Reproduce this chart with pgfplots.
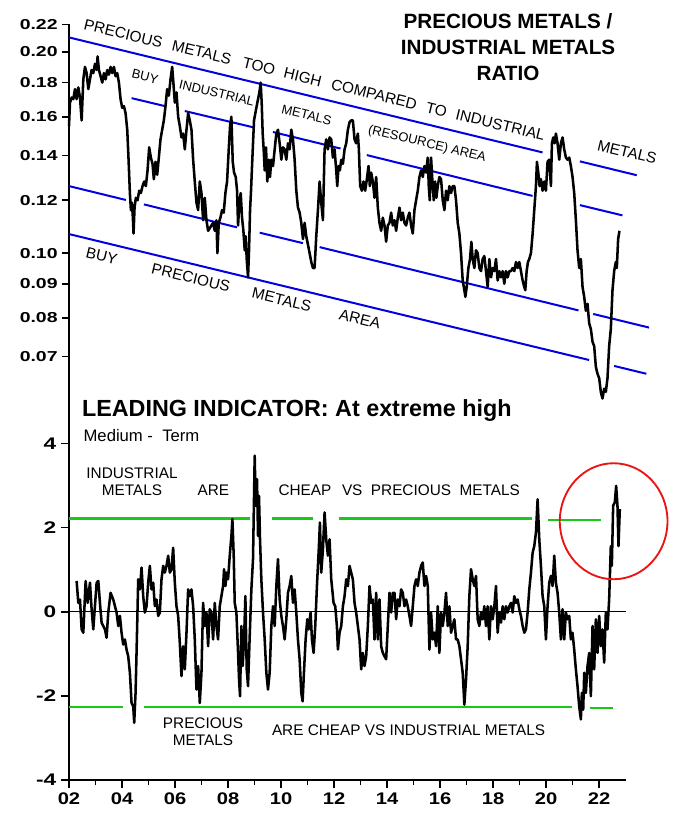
\documentclass[border=0pt]{standalone}
\usepackage{pgfplots}
\pgfplotsset{compat=1.18}
\usepackage{fontspec}
\setmainfont{Liberation Sans}
\newfontfamily\tickfont[FakeStretch=1.2]{Liberation Sans}
\newfontfamily\tickfontw[FakeStretch=1.35]{Liberation Sans}
\definecolor{lblue}{RGB}{0,0,225}
\definecolor{lgreen}{RGB}{25,200,25}
\definecolor{lred}{RGB}{235,20,20}
\begin{document}
\begin{tikzpicture}
\useasboundingbox (0,0) rectangle (510.75pt,610.5pt);
% ---------------- top panel ----------------
\begin{axis}[
  at={(51.75pt,309.45pt)}, anchor=south west, scale only axis,
  width=417.5pt, height=282.8pt,
  xmin=2, xmax=23, ymode=log, ymin=0.06, ymax=0.22,
  axis x line=none, axis y line=left,
  y axis line style={-, line width=1.5pt},
  ytick={0.07,0.08,0.09,0.1,0.12,0.14,0.16,0.18,0.2,0.22},
  yticklabels={0.07,0.08,0.09,0.10,0.12,0.14,0.16,0.18,0.20,0.22},
  yminorticks=false,
  tick align=outside, major tick length=5pt,
  tick style={line width=1.2pt, black},
  yticklabel style={font=\tickfontw\bfseries\fontsize{10.8}{12}\selectfont},
  clip=false,
]
% channel lines
\pgfplotsset{every axis plot/.append style={}}
\addplot[lblue, line width=1.5pt] coordinates {(2,0.2103) (19.864,0.1415)};
\addplot[lblue, line width=1.5pt] coordinates {(21.273,0.1372) (23.42,0.1308)};
\addplot[lblue, line width=1.5pt] coordinates {(4.362,0.1706) (5.616,0.1660)};
\addplot[lblue, line width=1.5pt] coordinates {(6.369,0.1632) (9.006,0.1541)};
\addplot[lblue, line width=1.5pt] coordinates {(9.695,0.1518) (12.245,0.1434)};
\addplot[lblue, line width=1.5pt] coordinates {(13.235,0.1402) (19.488,0.1218)};
\addplot[lblue, line width=1.5pt] coordinates {(21.273,0.1180) (22.878,0.1139)};
\addplot[lblue, line width=1.5pt] coordinates {(2,0.1260) (4.147,0.1201)};
\addplot[lblue, line width=1.5pt] coordinates {(4.825,0.1183) (8.339,0.1093)};
\addplot[lblue, line width=1.5pt] coordinates {(9.194,0.1073) (10.825,0.1035)};
\addplot[lblue, line width=1.5pt] coordinates {(11.454,0.1021) (21.22,0.0821)};
\addplot[lblue, line width=1.5pt] coordinates {(21.773,0.0811) (23.88,0.0774)};
\addplot[lblue, line width=1.5pt] coordinates {(2,0.1068) (21.62,0.0692)};
\addplot[lblue, line width=1.5pt] coordinates {(22.565,0.0678) (23.78,0.0660)};
% ratio series
\addplot[black, line width=1.9pt, line join=round] coordinates {
(2.00,0.155) (2.037,0.168) (2.10,0.171) (2.163,0.170) (2.226,0.176) (2.288,0.170)
(2.351,0.177) (2.414,0.171) (2.477,0.158) (2.54,0.182) (2.602,0.190) (2.665,0.186)
(2.728,0.176) (2.791,0.182) (2.853,0.188) (2.916,0.186) (2.979,0.192) (3.042,0.188)
(3.079,0.197) (3.129,0.188) (3.192,0.184) (3.255,0.180) (3.318,0.186) (3.381,0.182)
(3.443,0.188) (3.506,0.185) (3.569,0.190) (3.632,0.186) (3.695,0.190) (3.757,0.184)
(3.82,0.186) (3.883,0.180) (3.946,0.170) (4.008,0.165) (4.071,0.166) (4.134,0.162)
(4.197,0.153) (4.247,0.138) (4.297,0.123) (4.335,0.116) (4.373,0.119) (4.41,0.113)
(4.435,0.107) (4.473,0.117) (4.523,0.121) (4.586,0.120) (4.649,0.124) (4.711,0.123)
(4.774,0.126) (4.837,0.128) (4.9,0.126) (4.963,0.133) (5.025,0.144) (5.088,0.139)
(5.151,0.136) (5.201,0.129) (5.264,0.137) (5.327,0.131) (5.389,0.139) (5.452,0.148)
(5.515,0.153) (5.578,0.158) (5.641,0.166) (5.703,0.176) (5.766,0.172) (5.829,0.182)
(5.892,0.190) (5.942,0.179) (5.992,0.168) (6.055,0.174) (6.118,0.160) (6.18,0.155)
(6.243,0.149) (6.306,0.151) (6.369,0.143) (6.432,0.153) (6.494,0.162) (6.557,0.158)
(6.62,0.153) (6.683,0.138) (6.745,0.128) (6.808,0.119) (6.871,0.116) (6.934,0.128)
(6.997,0.123) (7.059,0.112) (7.122,0.121) (7.185,0.112) (7.248,0.108) (7.373,0.110)
(7.436,0.111) (7.499,0.108) (7.561,0.112) (7.599,0.100) (7.649,0.111) (7.712,0.113)
(7.775,0.116) (7.838,0.115) (7.9,0.123) (7.963,0.128) (8.026,0.143) (8.076,0.155)
(8.126,0.160) (8.177,0.137) (8.227,0.132) (8.29,0.130) (8.34,0.124) (8.378,0.110)
(8.428,0.119) (8.478,0.123) (8.528,0.113) (8.579,0.108) (8.629,0.101) (8.666,0.106)
(8.704,0.098) (8.754,0.092) (8.792,0.101) (8.83,0.116) (8.867,0.124) (8.905,0.135)
(8.942,0.146) (8.98,0.158) (9.03,0.162) (9.081,0.166) (9.131,0.170) (9.181,0.174)
(9.231,0.180) (9.269,0.168) (9.307,0.151) (9.344,0.143) (9.382,0.133) (9.432,0.144)
(9.482,0.128) (9.533,0.138) (9.583,0.130) (9.633,0.138) (9.696,0.135) (9.759,0.143)
(9.821,0.151) (9.884,0.153) (9.947,0.146) (10.01,0.138) (10.072,0.144) (10.135,0.143)
(10.198,0.138) (10.261,0.146) (10.323,0.143) (10.386,0.153) (10.449,0.148) (10.512,0.138)
(10.575,0.124) (10.637,0.117) (10.7,0.115) (10.763,0.111) (10.826,0.105) (10.889,0.111)
(10.951,0.106) (11.014,0.103) (11.077,0.100) (11.14,0.097) (11.202,0.095) (11.265,0.095)
(11.328,0.106) (11.391,0.116) (11.453,0.128) (11.516,0.119) (11.579,0.112) (11.642,0.143)
(11.704,0.148) (11.767,0.143) (11.83,0.149) (11.893,0.148) (11.956,0.139) (12.019,0.143)
(12.081,0.133) (12.119,0.126) (12.169,0.135) (12.219,0.133) (12.27,0.138) (12.333,0.136)
(12.395,0.143) (12.458,0.146) (12.521,0.153) (12.583,0.157) (12.646,0.158) (12.709,0.158)
(12.772,0.148) (12.834,0.146) (12.897,0.151) (12.935,0.143) (12.985,0.126) (13.048,0.124)
(13.111,0.128) (13.173,0.124) (13.236,0.129) (13.299,0.135) (13.349,0.126) (13.399,0.132)
(13.462,0.128) (13.525,0.121) (13.588,0.130) (13.65,0.117) (13.713,0.111) (13.776,0.108)
(13.839,0.113) (13.902,0.110) (13.964,0.104) (14.027,0.110) (14.09,0.111) (14.153,0.115)
(14.215,0.110) (14.278,0.112) (14.341,0.108) (14.404,0.113) (14.467,0.117) (14.529,0.112)
(14.592,0.115) (14.655,0.111) (14.718,0.110) (14.78,0.113) (14.843,0.115) (14.906,0.110)
(14.969,0.107) (15.032,0.116) (15.094,0.120) (15.157,0.124) (15.22,0.130) (15.283,0.133)
(15.345,0.130) (15.408,0.135) (15.471,0.132) (15.534,0.139) (15.572,0.126) (15.609,0.120)
(15.659,0.139) (15.71,0.128) (15.76,0.120) (15.81,0.128) (15.86,0.121) (15.91,0.126)
(15.973,0.130) (16.036,0.129) (16.099,0.120) (16.162,0.116) (16.224,0.124) (16.287,0.120)
(16.35,0.126) (16.413,0.123) (16.475,0.126) (16.538,0.126) (16.601,0.120) (16.664,0.111)
(16.727,0.107) (16.789,0.100) (16.852,0.091) (16.915,0.088) (16.953,0.086) (17.003,0.089)
(17.066,0.095) (17.128,0.098) (17.179,0.104) (17.229,0.098) (17.292,0.095) (17.354,0.101)
(17.417,0.100) (17.48,0.095) (17.543,0.094) (17.605,0.098) (17.668,0.099) (17.731,0.094)
(17.794,0.089) (17.857,0.098) (17.92,0.092) (17.983,0.095) (18.046,0.094) (18.108,0.098)
(18.171,0.091) (18.234,0.094) (18.297,0.092) (18.36,0.094) (18.422,0.090) (18.485,0.094)
(18.548,0.092) (18.611,0.094) (18.673,0.094) (18.736,0.095) (18.799,0.094) (18.862,0.097)
(18.925,0.095) (18.987,0.097) (19.05,0.094) (19.113,0.091) (19.176,0.089) (19.213,0.088)
(19.264,0.094) (19.314,0.097) (19.364,0.098) (19.427,0.100) (19.49,0.107) (19.552,0.116)
(19.615,0.126) (19.653,0.137) (19.703,0.132) (19.753,0.126) (19.803,0.129) (19.866,0.124)
(19.929,0.128) (19.992,0.124) (20.054,0.137) (20.117,0.138) (20.18,0.126) (20.218,0.146)
(20.268,0.149) (20.318,0.146) (20.368,0.151) (20.431,0.146) (20.494,0.138) (20.557,0.146)
(20.619,0.149) (20.682,0.143) (20.745,0.139) (20.808,0.138) (20.871,0.139) (20.933,0.135)
(20.996,0.130) (21.059,0.123) (21.122,0.112) (21.184,0.101) (21.247,0.095) (21.31,0.098)
(21.373,0.089) (21.436,0.086) (21.498,0.082) (21.561,0.084) (21.624,0.0785) (21.687,0.077)
(21.75,0.0737) (21.812,0.0726) (21.875,0.0676) (21.938,0.066) (22.001,0.065) (22.063,0.062)
(22.126,0.0606) (22.189,0.0627) (22.252,0.062) (22.314,0.065) (22.377,0.0726) (22.44,0.077)
(22.503,0.088) (22.566,0.094) (22.628,0.097) (22.666,0.095) (22.716,0.105) (22.767,0.108)
};
\end{axis}
% ---------------- bottom panel ----------------
\begin{axis}[
  at={(51.75pt,25.5pt)}, anchor=south west, scale only axis,
  width=417.5pt, height=284pt,
  xmin=2, xmax=23, ymin=-4, ymax=5,
  axis x line=bottom, axis y line=left,
  x axis line style={-, line width=1.5pt},
  y axis line style={-, line width=1.5pt},
  xtick={2,4,6,8,10,12,14,16,18,20,22},
  xticklabels={02,04,06,08,10,12,14,16,18,20,22},
  minor xtick={3,5,7,9,11,13,15,17,19,21},
  ytick={-4,-2,0,2,4},
  yticklabels={-4,-2,0,2,4},
  tick align=outside, major tick length=6pt, minor tick length=4pt,
  tick style={line width=1.2pt, black},
  xticklabel style={font=\tickfont\bfseries\fontsize{12.6}{14}\selectfont},
  yticklabel style={font=\tickfontw\bfseries\fontsize{12.6}{14}\selectfont},
  clip=false,
]
\addplot[black, line width=1pt] coordinates {(2,0) (23,0)};
\addplot[lgreen, line width=1.6pt] coordinates {(2,2.214) (8.817,2.214)};
\addplot[lgreen, line width=1.6pt] coordinates {(9.672,2.214) (11.202,2.214)};
\addplot[lgreen, line width=1.6pt] coordinates {(12.181,2.214) (19.465,2.214)};
\addplot[lgreen, line width=1.6pt] coordinates {(20.079,2.17) (22.087,2.17)};
\addplot[lgreen, line width=1.6pt] coordinates {(2,-2.271) (4.045,-2.271)};
\addplot[lgreen, line width=1.6pt] coordinates {(4.836,-2.271) (20.957,-2.271)};
\addplot[lgreen, line width=1.6pt] coordinates {(21.65,-2.29) (22.527,-2.29)};
\addplot[black, line width=1.9pt, line join=round] coordinates {
(2.288,0.73) (2.351,0.21) (2.414,0.29) (2.477,-0.42) (2.54,-0.50) (2.627,0.73)
(2.703,0.21) (2.791,0.69) (2.853,0.06) (2.916,-0.42) (3.042,0.69) (3.105,0.73)
(3.167,0.21) (3.23,-0.26) (3.356,-0.42) (3.418,-0.62) (3.481,-0.02) (3.569,0.45)
(3.669,0.29) (3.795,-0.02) (3.858,-0.34) (3.921,-0.10) (3.983,-0.50) (4.046,-0.78)
(4.109,-0.66) (4.172,-0.90) (4.234,-1.06) (4.297,-1.45) (4.36,-2.17) (4.423,-2.25)
(4.46,-2.64) (4.511,-1.93) (4.548,-0.98) (4.611,0.77) (4.674,0.53) (4.737,1.05)
(4.799,0.37) (4.862,-0.02) (4.925,0.13) (4.988,0.69) (5.05,1.09) (5.113,0.53)
(5.176,0.69) (5.239,0.13) (5.302,0.29) (5.364,-0.10) (5.427,-0.02) (5.49,0.77)
(5.553,1.09) (5.615,0.93) (5.678,1.09) (5.741,1.33) (5.804,0.93) (5.867,1.01)
(5.929,1.52) (5.992,0.69) (6.055,0.13) (6.118,-0.10) (6.18,-0.74) (6.243,-1.53)
(6.306,-0.82) (6.369,-1.37) (6.432,-0.50) (6.494,0.53) (6.557,0.37) (6.62,0.53)
(6.683,0.13) (6.745,-0.66) (6.808,-1.85) (6.871,-1.29) (6.934,-2.17) (6.997,-1.45)
(7.059,0.21) (7.122,-0.34) (7.185,-0.02) (7.248,-0.82) (7.31,0.06) (7.373,-0.02)
(7.436,-0.66) (7.499,0.21) (7.561,-0.34) (7.624,-0.66) (7.687,0.13) (7.75,0.37)
(7.813,0.61) (7.85,1.01) (7.9,0.61) (7.951,0.93) (8.001,0.77) (8.064,1.33)
(8.126,1.80) (8.164,2.20) (8.214,1.33) (8.252,0.21) (8.315,-0.02) (8.378,-0.98)
(8.415,-1.61) (8.453,-2.01) (8.503,-0.34) (8.553,-1.29) (8.604,-0.66) (8.654,0.37)
(8.704,-1.37) (8.754,-1.77) (8.817,-0.58) (8.88,0.53) (8.942,1.25) (9.005,3.71)
(9.043,2.52) (9.093,3.15) (9.131,1.80) (9.168,2.75) (9.206,1.72) (9.256,0.77)
(9.319,-0.02) (9.382,-0.66) (9.445,-1.45) (9.507,-1.85) (9.57,-1.45) (9.633,-0.34)
(9.696,0.13) (9.759,-0.34) (9.821,0.61) (9.884,1.25) (9.947,0.29) (10.01,-0.10)
(10.072,-0.34) (10.135,-0.66) (10.198,-0.18) (10.261,0.45) (10.323,0.61) (10.386,0.85)
(10.449,0.21) (10.512,0.53) (10.575,-0.02) (10.637,-0.66) (10.7,-1.13) (10.763,-1.93)
(10.813,-2.13) (10.863,-1.45) (10.926,-0.66) (10.989,-0.18) (11.039,-0.42) (11.114,-0.02)
(11.165,-0.66) (11.227,-0.98) (11.29,-0.34) (11.353,0.61) (11.428,1.56) (11.466,2.12)
(11.516,0.93) (11.579,1.48) (11.642,2.36) (11.704,1.72) (11.767,1.33) (11.83,1.72)
(11.893,0.77) (11.931,0.53) (11.981,0.21) (12.044,0.13) (12.106,-0.34) (12.144,-0.90)
(12.207,-0.50) (12.27,-0.34) (12.333,0.13) (12.395,0.37) (12.458,0.77) (12.521,0.61)
(12.583,1.09) (12.646,0.93) (12.709,0.77) (12.772,0.21) (12.834,-0.02) (12.897,-0.34)
(12.96,-0.66) (13.023,-1.37) (13.086,-0.98) (13.148,-1.29) (13.211,-1.06) (13.274,-0.34)
(13.337,0.61) (13.399,0.21) (13.462,0.29) (13.525,-0.66) (13.588,0.45) (13.65,-0.66)
(13.713,0.29) (13.776,-0.82) (13.839,-0.98) (13.902,-1.06) (13.964,-1.13) (14.027,-0.34)
(14.09,0.45) (14.153,-0.02) (14.215,0.45) (14.278,0.45) (14.341,-0.18) (14.404,0.29)
(14.467,0.13) (14.529,0.53) (14.592,0.45) (14.655,0.13) (14.718,0.29) (14.78,0.13)
(14.843,-0.10) (14.906,-0.34) (14.969,0.13) (15.032,0.61) (15.094,0.77) (15.157,0.61)
(15.22,0.93) (15.283,1.09) (15.345,1.17) (15.408,0.61) (15.471,0.85) (15.534,0.61)
(15.597,-0.90) (15.659,-0.02) (15.722,-0.66) (15.785,-0.50) (15.848,-0.82) (15.91,0.13)
(15.973,-0.98) (16.036,-0.02) (16.099,-0.34) (16.162,-0.02) (16.224,0.45) (16.287,-0.34)
(16.35,0.13) (16.413,-0.50) (16.475,-0.34) (16.538,-0.18) (16.601,-0.66) (16.664,-0.66)
(16.727,-0.82) (16.789,-1.13) (16.852,-1.45) (16.915,-2.21) (16.978,-1.61) (17.04,-0.82)
(17.103,0.37) (17.166,1.01) (17.229,0.77) (17.292,0.61) (17.354,0.85) (17.417,-0.18)
(17.48,-0.34) (17.543,-0.02) (17.605,-0.18) (17.668,0.13) (17.731,-0.34) (17.794,0.13)
(17.857,-0.66) (17.92,0.13) (17.983,-0.18) (18.046,0.13) (18.108,0.61) (18.171,-0.50)
(18.234,-0.02) (18.297,-0.26) (18.36,0.13) (18.422,-0.18) (18.485,0.13) (18.548,-0.02)
(18.611,0.13) (18.673,0.21) (18.736,-0.02) (18.799,0.37) (18.862,0.21) (18.925,0.29)
(18.987,0.06) (19.05,-0.10) (19.113,-0.34) (19.176,-0.50) (19.238,-0.42) (19.301,-0.02)
(19.364,0.53) (19.427,0.93) (19.49,1.40) (19.552,1.56) (19.615,1.88) (19.678,2.67)
(19.741,1.72) (19.803,1.09) (19.866,0.37) (19.929,0.13) (19.992,-0.66) (20.054,0.13)
(20.117,0.69) (20.18,0.85) (20.243,0.61) (20.306,1.33) (20.368,0.69) (20.431,0.45)
(20.494,-0.02) (20.557,-0.66) (20.619,0.06) (20.682,-0.66) (20.745,-0.02) (20.808,-0.18)
(20.871,-0.10) (20.933,-0.66) (20.996,-0.50) (21.059,-0.90) (21.122,-1.37) (21.184,-1.77)
(21.247,-2.25) (21.31,-2.56) (21.348,-1.93) (21.398,-2.33) (21.436,-1.45) (21.498,-1.93)
(21.561,-1.29) (21.624,-0.98) (21.687,-2.01) (21.75,-0.34) (21.812,-1.37) (21.875,-0.18)
(21.938,-0.98) (22.001,-0.10) (22.063,-0.82) (22.126,-0.42) (22.189,-1.21) (22.252,-0.02)
(22.314,-0.42) (22.377,0.29) (22.44,1.56) (22.478,1.09) (22.528,2.52) (22.591,2.60)
(22.641,2.99) (22.691,2.52) (22.729,1.56) (22.779,2.44)
};
\draw[lred, line width=1.4pt] (axis cs:22.546,2.15) ellipse [x radius=40.4pt, y radius=43.5pt];
\end{axis}
% ---------------- texts ----------------
\node[align=center, font=\bfseries\fontsize{15.5}{19.5}\selectfont] at (381pt,575.5pt)
  {PRECIOUS METALS /\\INDUSTRIAL METALS\\RATIO};
\node[anchor=base west, inner sep=0pt, font=\bfseries\fontsize{17.5}{20}\selectfont] at (61.3pt,298pt)
  {LEADING INDICATOR: At extreme high};
\node[anchor=base west, inner sep=0pt, font=\fontsize{12.5}{14}\selectfont] at (62.5pt,279.2pt)
  {Medium -\ \ Term};
\begin{scope}[every node/.style={rotate=-13.63, font=\fontsize{11.5}{13}\selectfont, inner sep=0pt}]
\node[anchor=west] at (63.1pt,592.5pt) {PRECIOUS\hspace{7.9pt}METALS\hspace{9.3pt}TOO\hspace{7.1pt}HIGH\hspace{7.9pt}COMPARED\hspace{7.4pt}TO\hspace{7.3pt}INDUSTRIAL};
\node at (470.25pt,496.5pt) {METALS};
\node at (76.3pt,418.5pt) {BUY};
\node at (143.1pt,402.3pt) {PRECIOUS};
\node at (211.3pt,385.7pt) {METALS};
\node at (270pt,371.4pt) {AREA};
\end{scope}
\begin{scope}[every node/.style={rotate=-13.63, font=\fontsize{9.7}{11}\selectfont, inner sep=0pt}]
\node at (108.75pt,553pt) {BUY};
\node at (162.5pt,540.75pt) {INDUSTRIAL};
\node at (230pt,524.25pt) {METALS};
\node at (320.25pt,502.5pt) {(RESOURCE) AREA};
\end{scope}
\begin{scope}[every node/.style={font=\fontsize{11.5}{12.5}\selectfont, inner sep=0pt}]
\node[align=center] at (99pt,249.2pt) {INDUSTRIAL\\METALS};
\node at (160pt,243pt) {ARE};
\node at (228.75pt,243pt) {CHEAP};
\node[anchor=west] at (256.3pt,243pt) {VS\ \ PRECIOUS\ \ METALS};
\node[align=center] at (152.25pt,61.7pt) {PRECIOUS\\METALS};
\node[anchor=west] at (203.8pt,62.5pt) {ARE CHEAP VS INDUSTRIAL METALS};
\end{scope}
\end{tikzpicture}
\end{document}
